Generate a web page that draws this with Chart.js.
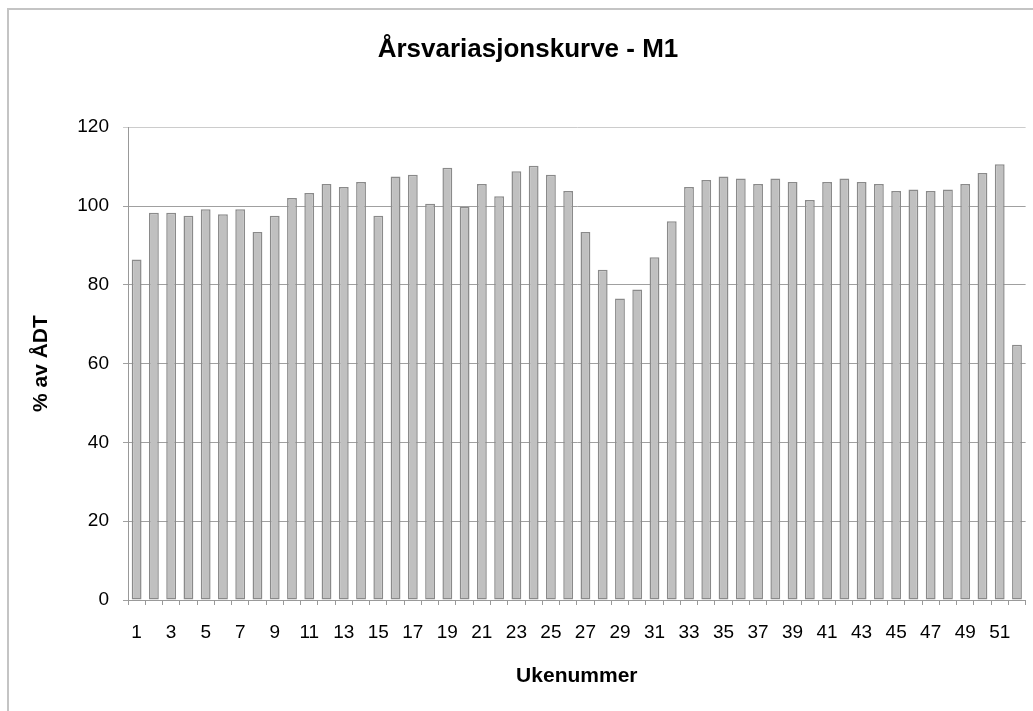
<!DOCTYPE html>
<html>
<head>
<meta charset="utf-8">
<script src="https://cdn.jsdelivr.net/npm/chart.js@4"></script>
<style>
  html, body { margin: 0; padding: 0; background: #fff; overflow: hidden; }
  #wrap { position: absolute; left: 0; top: 0; width: 1033px; height: 711px; }
  #frame {
    position: absolute; left: 7px; top: 8px; width: 1100px; height: 800px;
    border: 2px solid #c4c4c4; box-sizing: border-box;
  }
</style>
</head>
<body>
<div id="frame"></div>
<div id="wrap"><canvas id="chart" width="1033" height="711"></canvas></div>
<script>
// Ukenummer
const weeks = [
  '1', '2', '3', '4', '5', '6', '7', '8', '9', '10', '11', '12', '13',
  '14', '15', '16', '17', '18', '19', '20', '21', '22', '23', '24', '25', '26',
  '27', '28', '29', '30', '31', '32', '33', '34', '35', '36', '37', '38', '39',
  '40', '41', '42', '43', '44', '45', '46', '47', '48', '49', '50', '51', '52',
];

// % av ÅDT per uke (lest av figuren)
const percentOfAdt = [
  86.4, 98.3, 98.3, 97.5, 99.2, 97.9, 99.2, 93.4, 97.5, 102.0, 103.3, 105.6, 104.8,
  106.1, 97.5, 107.5, 107.9, 100.6, 109.7, 99.8, 105.6, 102.5, 108.8, 110.2, 107.9, 103.8,
  93.4, 83.8, 76.5, 78.8, 87.0, 96.1, 104.8, 106.6, 107.5, 107.0, 105.6, 107.0, 106.1,
  101.5, 106.1, 107.0, 106.1, 105.6, 103.8, 104.2, 103.8, 104.2, 105.6, 108.4, 110.6, 64.8,
];

const yMin = 0;
const yMax = 120;
const yStep = 20;

const fontFamily = '"Liberation Sans", Arial, Helvetica, sans-serif';

const ctx = document.getElementById('chart').getContext('2d');

new Chart(ctx, {
  type: 'bar',
  data: {
    labels: weeks,
    datasets: [
      {
        label: '% av ÅDT',
        data: percentOfAdt,
        backgroundColor: '#c0c0c0',
        borderColor: '#8a8a8a',
        borderWidth: 1.5,
        borderSkipped: false,
        barPercentage: 0.57,
        categoryPercentage: 1.0,
      },
    ],
  },
  options: {
    responsive: false,
    animation: false,
    devicePixelRatio: 1,
    layout: {
      padding: {left: 25, right: 2, top: 0, bottom: 0},
    },
    plugins: {
      legend: {display: false},
      tooltip: {enabled: false},
      title: {
        display: true,
        text: 'Årsvariasjonskurve - M1',
        color: '#000',
        font: {family: fontFamily, size: 26, weight: 'bold'},
        padding: {top: 34, bottom: 62},
      },
    },
    scales: {
      x: {
        grid: {
          display: true,
          drawOnChartArea: false,
          drawTicks: true,
          tickLength: 5,
          offset: true,
          color: '#999',
          lineWidth: 1,
        },
        border: {display: true, color: '#999', width: 1},
        ticks: {
          autoSkip: false,
          maxRotation: 0,
          padding: 16,
          color: '#000',
          font: {family: fontFamily, size: 19},
          // bare annenhver uke får tekst
          callback: function (value, index) {
            return index % 2 === 0 ? weeks[index] : '';
          },
        },
        title: {
          display: true,
          text: 'Ukenummer',
          color: '#000',
          font: {family: fontFamily, size: 21, weight: 'bold'},
          padding: {top: 0, bottom: 22},
        },
        afterFit: (scale) => {
          scale.height = 111;
        },
      },
      y: {
        min: yMin,
        max: yMax,
        grid: {
          drawTicks: true,
          tickLength: 5,
          color: (c) => (c.tick && c.tick.value === yMax ? '#cccccc' : '#a0a0a0'),
          lineWidth: 1,
        },
        border: {display: true, color: '#999', width: 1},
        ticks: {
          stepSize: yStep,
          padding: 14,
          color: '#000',
          font: {family: fontFamily, size: 19},
        },
        title: {
          display: true,
          text: '% av ÅDT',
          color: '#000',
          font: {family: fontFamily, size: 21, weight: 'bold'},
          padding: {top: 4, bottom: 0},
        },
        afterFit: (scale) => {
          scale.width = 103;
        },
      },
    },
  },
});
</script>
</body>
</html>
